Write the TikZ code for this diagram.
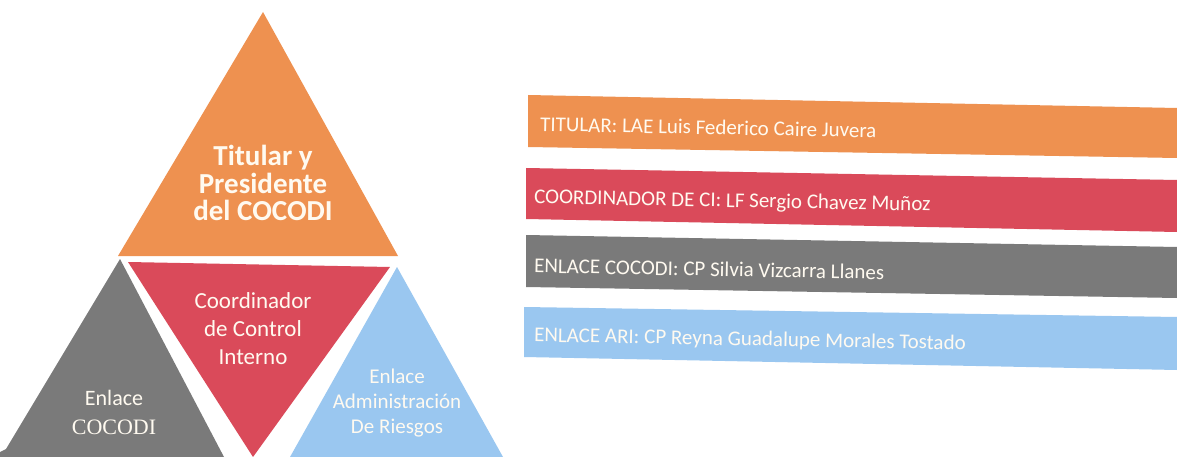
\documentclass[tikz,border=0pt]{standalone}
\usepackage{fontspec}
\setmainfont{Carlito}
\newfontfamily\serifalt{Liberation Serif}
\definecolor{cOrange}{RGB}{238,145,80}
\definecolor{cRed}{RGB}{218,74,90}
\definecolor{cGray}{RGB}{122,122,122}
\definecolor{cBlue}{RGB}{154,199,240}
\definecolor{cTxt}{RGB}{255,250,240}
\tikzset{
  tritext/.style={text=cTxt, align=center, inner sep=0pt},
  bartext/.style={text=cTxt, anchor=west, inner sep=0pt, rotate=-1.1, font=\fontsize{21}{24}\selectfont},
}
\begin{document}
\begin{tikzpicture}[x=1pt,y=-1pt]
\useasboundingbox (0,0) rectangle (1177,457);
\fill[white] (0,0) rectangle (1177,457);
% triangles
\fill[cOrange] (263,12) -- (398,256) -- (118,256) -- cycle;
\fill[cRed] (128,262) -- (390,267) -- (253,457) -- cycle;
\fill[cGray] (120,259) -- (224,457) -- (0,457) -- (0,452) -- (6,449) -- cycle;
\fill[cBlue] (397,267) -- (503,457) -- (290,457) -- cycle;
% triangle texts
\node[tritext, font=\fontsize{29}{27.5}\selectfont\bfseries] (titular) at (263,183) {Titular y\\Presidente\\del COCODI};
\node[tritext, font=\fontsize{23}{28}\selectfont] (coord) at (253,329) {Coordinador\\de Control\\Interno};
\node[tritext, font=\fontsize{22}{29}\selectfont] (enlace) at (114,412) {Enlace\\{\serifalt COCODI}};
\node[tritext, font=\fontsize{21}{25}\selectfont] (ari) at (397,403) {Enlace\\Administración\\De Riesgos};
% bars
\fill[cOrange] (528,95) -- (1177,108) -- (1177,158) -- (528,147) -- cycle;
\fill[cRed] (526,168) -- (1177,180) -- (1177,232) -- (526,219) -- cycle;
\fill[cGray] (526,235) -- (1177,247) -- (1177,298) -- (526,287) -- cycle;
\fill[cBlue] (524,307) -- (1177,317) -- (1177,370) -- (524,357) -- cycle;
\node[bartext] (b1) at (540,124) {TITULAR: LAE Luis Federico Caire Juvera};
\node[bartext] (b2) at (534,198) {COORDINADOR DE CI: LF Sergio Chavez Muñoz};
\node[bartext] (b3) at (534,265.5) {ENLACE COCODI: CP Silvia Vizcarra Llanes};
\node[bartext] (b4) at (534,336) {ENLACE ARI: CP Reyna Guadalupe Morales Tostado};
\end{tikzpicture}
\end{document}
